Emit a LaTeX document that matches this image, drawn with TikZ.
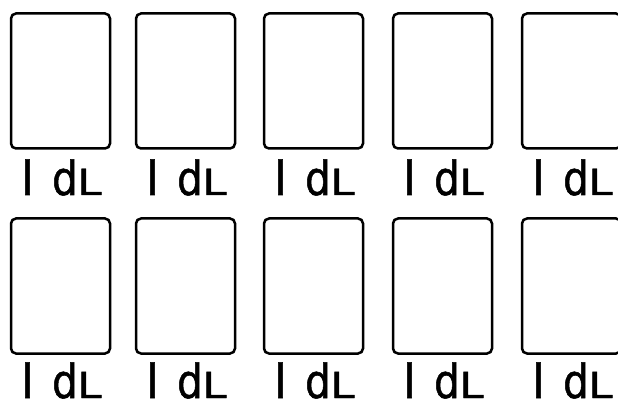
\documentclass[tikz,border=0pt]{standalone}
\usepackage{fontspec}
\setmainfont{DejaVu Sans}
\newfontfamily\labfont[FakeBold=1.2]{DejaVu Sans}
\newcommand{\dllabel}{l\hspace{18pt}\scalebox{0.86}[1]{d}\hspace{-0.5pt}\scalebox{1.22}[1]{\fontsize{36}{36}\selectfont L}}
\begin{document}
\begin{tikzpicture}[x=1pt,y=-1pt,
  card/.style={draw, line width=2.5pt, rounded corners=5pt, minimum width=99pt,
    minimum height=135pt, inner sep=0pt, outer sep=0pt},
  lab/.style={inner sep=0pt, outer sep=0pt, anchor=base west,
    font=\labfont\fontsize{47}{47}\selectfont}]
\useasboundingbox (0,0) rectangle (618,403);
\clip (0,0) rectangle (618,403);
\foreach \i/\x in {1/10,2/135,3/263,4/392,5/521} {
  \node[card] (t\i) at (\x+50.5,81) {};
  \node[lab] (tl\i) at (\x+11,195) {\dllabel};
  \node[card] (b\i) at (\x+50.5,286) {};
  \node[lab] (bl\i) at (\x+11,398) {\dllabel};
}
\end{tikzpicture}
\end{document}
